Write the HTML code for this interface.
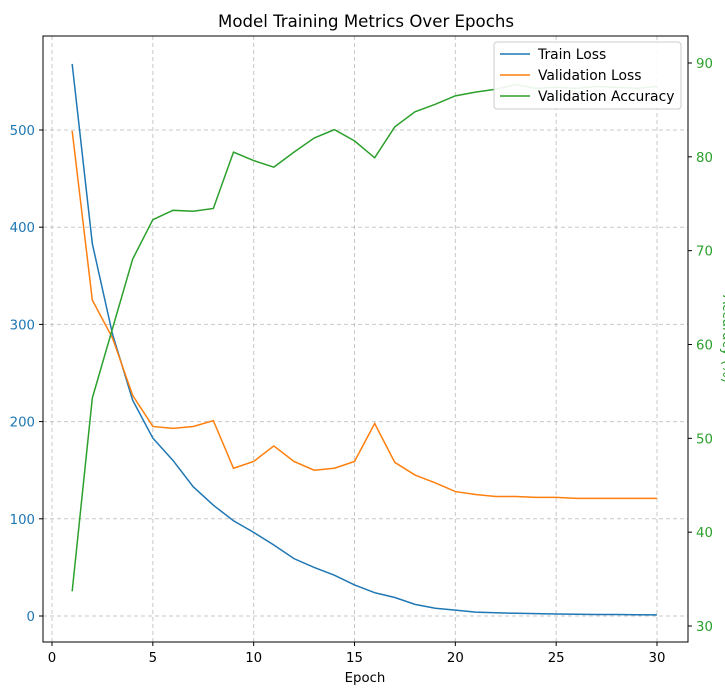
<!DOCTYPE html>
<html><head><meta charset="utf-8"><style>
body{margin:0;background:#fff}
svg{font-family:"DejaVu Sans","Liberation Sans",sans-serif;display:block}
</style></head><body>
<svg id="chart" width="725" height="700">
<rect width="725" height="700" fill="#fff"/>
<text x="366" y="27" text-anchor="middle" font-size="16.6">Model Training Metrics Over Epochs</text>
<g id="grid"></g>
<g id="series"></g>
<rect x="43" y="36" width="645" height="606" fill="none" stroke="#000" stroke-width="1"/>
<g id="axes"></g>
<text x="365" y="682" text-anchor="middle" font-size="13.3">Epoch</text>
<text transform="translate(723,339) rotate(90)" text-anchor="middle" font-size="13.3" fill="#2ca02c">Accuracy (%)</text>
<g>
<rect x="494" y="42" width="187" height="67" rx="3" fill="#fff" fill-opacity="0.9" stroke="#ccc"/>
<line x1="500" y1="54" x2="530" y2="54" stroke="#1f77b4" stroke-width="1.5"/>
<text x="538" y="59" font-size="13.9">Train Loss</text>
<line x1="500" y1="75" x2="530" y2="75" stroke="#ff7f0e" stroke-width="1.5"/>
<text x="538" y="80" font-size="13.9">Validation Loss</text>
<line x1="500" y1="96" x2="530" y2="96" stroke="#2ca02c" stroke-width="1.5"/>
<text x="538" y="101" font-size="13.9">Validation Accuracy</text>
</g>
</svg>
<script>
const epochs = Array.from({length:30},(_, i)=>i+1);
const trainLoss = [568,383,290,222,183,160,133,114,98,86,73,59,50,42,32,24,19,12,8,6,4,3.3,2.8,2.4,2,1.8,1.6,1.5,1.3,1.2];
const valLoss = [499,325,286,227,195,193,195,201,152,159,175,159,150,152,159,198,158,145,137,128,125,123,123,122,122,121,121,121,121,121];
const valAcc = [33.7,54.3,61.7,69.1,73.3,74.3,74.2,74.5,80.5,79.6,78.9,80.5,82.0,82.9,81.7,79.9,83.2,84.8,85.6,86.5,86.9,87.2,87.7,87.3,87.4,87.3,87.5,87.4,87.3,87.5];
const xTicks = [0,5,10,15,20,25,30];
const lossTicks = [0,100,200,300,400,500];
const accTicks = [30,40,50,60,70,80,90];

const X = v => 52 + v*(657-52)/30;
const YL = v => 616 - v*(616-130)/500;
const YR = v => 626 - (v-30)*(626-63)/60;
const NS="http://www.w3.org/2000/svg";
function mk(tag, attrs, parent){const e=document.createElementNS(NS,tag);for(const k in attrs)e.setAttribute(k,attrs[k]);parent.appendChild(e);return e;}
const grid=document.getElementById('grid'), axes=document.getElementById('axes'), series=document.getElementById('series');
xTicks.forEach(t=>{
  const g=mk('line',{x1:X(t),x2:X(t),y1:36,y2:642,stroke:'#b0b0b0','stroke-dasharray':'4,3','stroke-opacity':0.7},grid);
  
  
  const tk=mk('line',{x1:X(t),x2:X(t),y1:642,y2:646,stroke:'#000'},axes);
  
  
  const tx=mk('text',{x:X(t),y:662,'text-anchor':'middle','font-size':13.3},axes);
  tx.textContent=t;
  
  
});
lossTicks.forEach(t=>{
  const g=mk('line',{x1:43,x2:688,y1:YL(t),y2:YL(t),stroke:'#b0b0b0','stroke-dasharray':'4,3','stroke-opacity':0.7},grid);
  
  
  const tk=mk('line',{x1:39,x2:43,y1:YL(t),y2:YL(t),stroke:'#000'},axes);
  
  
  const tx=mk('text',{x:35,y:YL(t)+5,'text-anchor':'end','font-size':13.3,fill:'#1f77b4'},axes);
  tx.textContent=t;
  
  
});
accTicks.forEach(t=>{
  const tk=mk('line',{x1:688,x2:692,y1:YR(t),y2:YR(t),stroke:'#000'},axes);
  
  
  const tx=mk('text',{x:696,y:YR(t)+5,'font-size':13.3,fill:'#2ca02c'},axes);
  tx.textContent=t;
  
  
});
function line(vals, yf, color, name){
  const p=mk('polyline',{points:vals.map((v,i)=>X(epochs[i])+','+yf(v)).join(' '),fill:'none',stroke:color,'stroke-width':1.5},series);
  
  
}
line(trainLoss,YL,'#1f77b4','train-loss-line');
line(valLoss,YL,'#ff7f0e','validation-loss-line');
line(valAcc,YR,'#2ca02c','validation-accuracy-line');
</script>
</body></html>
